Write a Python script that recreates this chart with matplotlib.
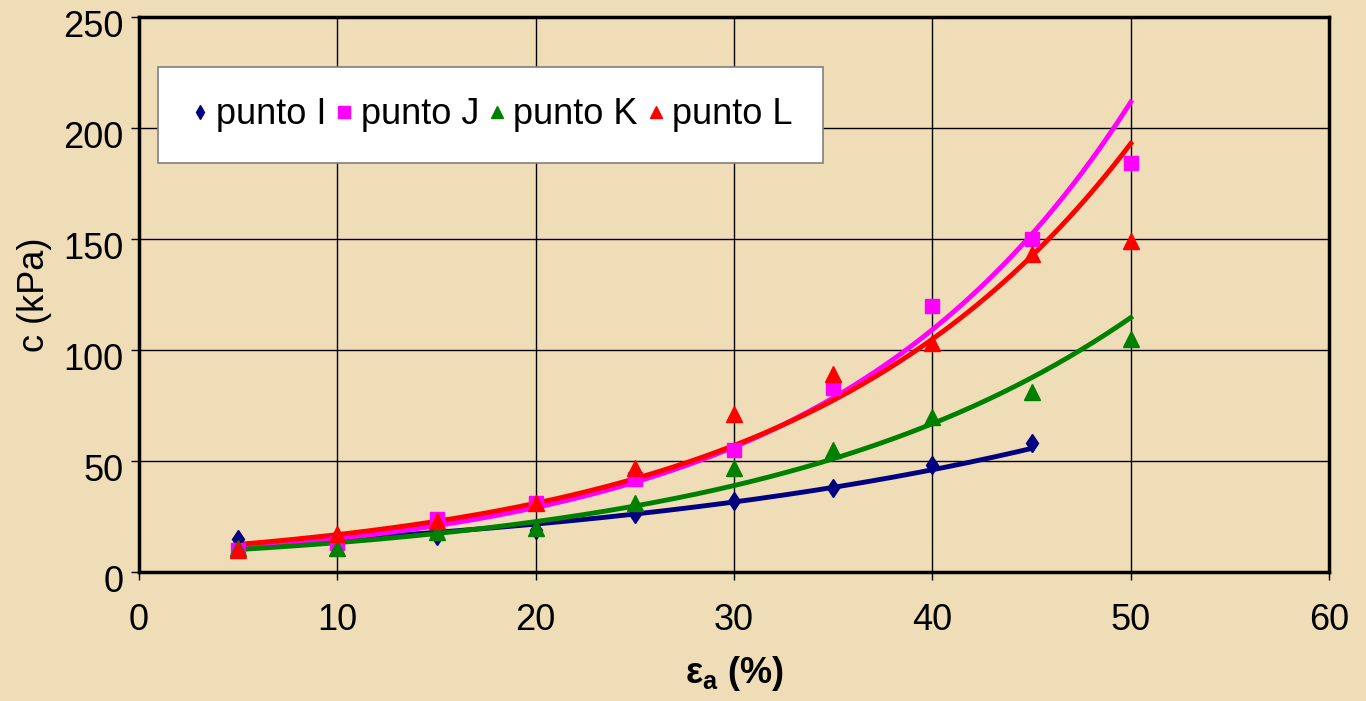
import numpy as np
import matplotlib.pyplot as plt
from matplotlib.transforms import ScaledTranslation

plt.rcParams['font.family'] = ['Liberation Sans', 'DejaVu Sans']
plt.rcParams['mathtext.fontset'] = 'custom'
plt.rcParams['mathtext.rm'] = 'Liberation Sans'
plt.rcParams['mathtext.bf'] = 'Liberation Sans:bold'
plt.rcParams['mathtext.it'] = 'Liberation Sans:italic'

# deformación axial (%)
ea_I = [5, 10, 15, 20, 25, 30, 35, 40, 45]
ea = [5, 10, 15, 20, 25, 30, 35, 40, 45, 50]

# cohesión c (kPa) por punto
c_I = [15, 14, 16, 19, 26, 32, 38, 48, 58]
c_J = [10, 13, 24, 31, 42, 55, 83, 120, 150, 184]
c_K = [11, 11, 18, 20, 31, 47, 55, 70, 81, 105]
c_L = [10, 17, 23, 31, 47, 71, 89, 103, 143, 149]

series = [
    ('punto I', ea_I, c_I, '#000080', 'd', 9.5),
    ('punto J', ea, c_J, '#FF00FF', 's', 10),
    ('punto K', ea, c_K, '#008000', '^', 11.5),
    ('punto L', ea, c_L, '#FF0000', '^', 11.5),
]

fs = 26
fig = plt.figure(figsize=(13.66, 7.01), dpi=100)
fondo = '#EEDDB6'
fig.patch.set_facecolor(fondo)
ax = fig.add_axes([0.1018, 0.184, 0.8712, 0.792])
ax.set_facecolor(fondo)

for nombre, x, y, col, mk, ms in series:
    x = np.array(x, float)
    y = np.array(y, float)
    # línea de tendencia exponencial
    b, a = np.polyfit(x, np.log(y), 1)
    xt = np.linspace(x.min(), x.max(), 200)
    ax.plot(xt, np.exp(a + b * xt), color=col, lw=3.5, zorder=3)
    ax.plot(x, y, linestyle='none', marker=mk, ms=ms, color=col,
            markeredgecolor=col, label=nombre, zorder=4)

ax.set_xlim(0, 60)
ax.set_ylim(0, 250)
ax.set_xticks(np.arange(0, 61, 10))
ax.set_yticks(np.arange(0, 251, 50))
ax.grid(True, color='black', lw=1.0)
ax.set_axisbelow(True)
ax.tick_params(labelsize=fs, length=6, width=1, direction='out')
ax.tick_params(axis='x', pad=16)
ax.tick_params(axis='y', pad=5)
# etiquetas del eje y un poco más abajo
baja = ScaledTranslation(0, -5 / 72, fig.dpi_scale_trans)
for lab in ax.get_yticklabels():
    lab.set_transform(lab.get_transform() + baja)
for s in ax.spines.values():
    s.set_linewidth(2.5)
    s.set_color('black')

ax.set_ylabel('c (kPa)', fontsize=fs, labelpad=8)
ax.set_xlabel(r'$\mathbf{\varepsilon_a}$ (%)', fontsize=fs, fontweight='bold', labelpad=12)

leg = ax.legend(loc='upper left', bbox_to_anchor=(0.016, 0.91),
                ncol=4, fontsize=fs, frameon=True, fancybox=False,
                handletextpad=0.15, columnspacing=0.2, handlelength=0.6,
                markerscale=0.8, borderaxespad=0, borderpad=0.85)
leg.get_frame().set_edgecolor('#808080')
leg.get_frame().set_facecolor('white')
leg.get_frame().set_alpha(1)
leg.get_frame().set_linewidth(1.2)
leg.set_zorder(5)

fig.savefig('out.png', dpi=100, facecolor=fondo)
